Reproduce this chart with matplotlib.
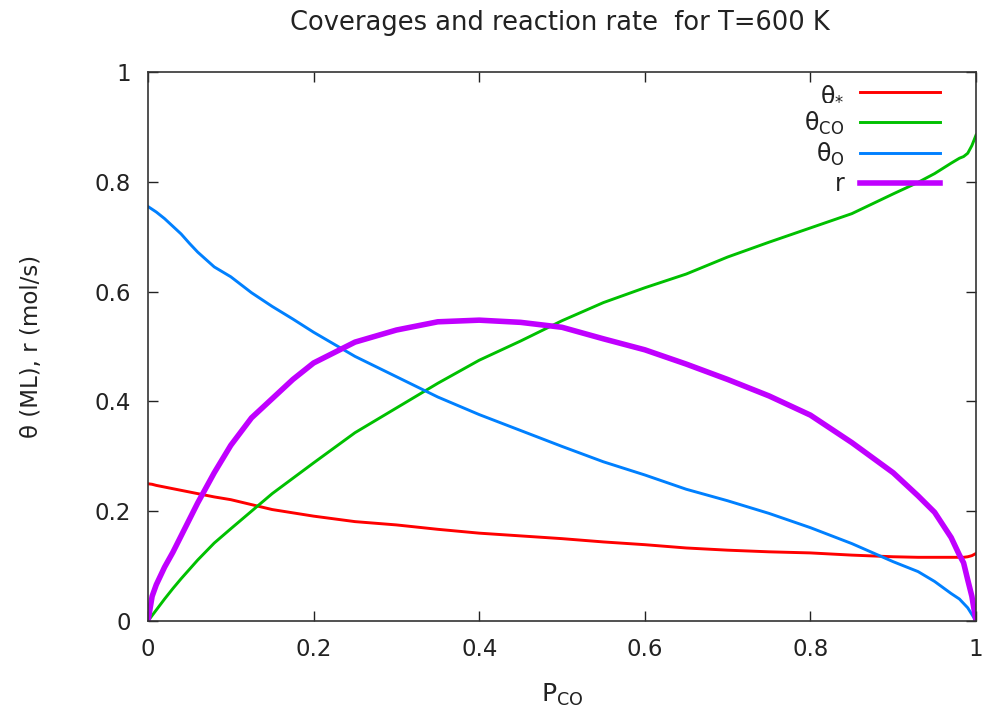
import numpy as np
import matplotlib.pyplot as plt

# CO 分圧
p_co = [0.0, 0.005, 0.01, 0.02, 0.03, 0.04, 0.05, 0.06, 0.08, 0.1, 0.125, 0.15, 0.175,
        0.2, 0.25, 0.3, 0.35, 0.4, 0.45, 0.5, 0.55, 0.6, 0.65, 0.7, 0.75, 0.8, 0.85,
        0.9, 0.93, 0.95, 0.97, 0.98, 0.985, 0.99, 0.995, 1.0]

# 空きサイト
theta_free = [0.25, 0.249, 0.247, 0.244, 0.241, 0.238, 0.235, 0.232, 0.226, 0.221, 0.212,
              0.203, 0.197, 0.191, 0.181, 0.175, 0.167, 0.160, 0.155, 0.150, 0.144, 0.139,
              0.133, 0.129, 0.126, 0.124, 0.120, 0.117, 0.116, 0.116, 0.116, 0.116, 0.116,
              0.117, 0.119, 0.123]

# CO 被覆率
theta_co = [0.0, 0.01, 0.02, 0.04, 0.059, 0.077, 0.094, 0.111, 0.142, 0.168, 0.2, 0.232,
            0.26, 0.288, 0.343, 0.388, 0.433, 0.475, 0.51, 0.547, 0.58, 0.607, 0.632,
            0.663, 0.69, 0.716, 0.742, 0.778, 0.799, 0.815, 0.834, 0.843, 0.846, 0.852,
            0.866, 0.885]

# O 被覆率
theta_o = [0.755, 0.75, 0.745, 0.733, 0.719, 0.705, 0.688, 0.672, 0.645, 0.627, 0.598,
           0.573, 0.55, 0.526, 0.482, 0.445, 0.408, 0.376, 0.347, 0.318, 0.29, 0.266,
           0.24, 0.219, 0.196, 0.170, 0.141, 0.108, 0.09, 0.072, 0.05, 0.04, 0.032,
           0.024, 0.012, 0.0]

# 反応速度
rate = [0.0, 0.045, 0.066, 0.098, 0.125, 0.155, 0.185, 0.215, 0.27, 0.32, 0.37, 0.405,
        0.44, 0.47, 0.508, 0.53, 0.545, 0.548, 0.544, 0.535, 0.514, 0.494, 0.468, 0.44,
        0.41, 0.375, 0.325, 0.27, 0.228, 0.198, 0.152, 0.12, 0.106, 0.075, 0.045, 0.0]

fig = plt.figure(figsize=(9.82, 7.11), dpi=100)
ax = fig.add_axes([0.1507, 0.1266, 0.8432, 0.7721])

ax.plot(p_co, theta_free, color='#ff0000', lw=2.1, label='θ$_{*}$')
ax.plot(p_co, theta_co, color='#00c000', lw=2.1, label='θ$_{\\mathrm{CO}}$')
ax.plot(p_co, theta_o, color='#0080ff', lw=2.1, label='θ$_{\\mathrm{O}}$')
ax.plot(p_co, rate, color='#c000ff', lw=4.0, label='r')

ax.set_xlim(0, 1)
ax.set_ylim(0, 1)
ticks = [0, 0.2, 0.4, 0.6, 0.8, 1]
tick_labels = ['0', '0.2', '0.4', '0.6', '0.8', '1']
ax.set_xticks(ticks)
ax.set_xticklabels(tick_labels)
ax.set_yticks(ticks)
ax.set_yticklabels(tick_labels)
ax.tick_params(direction='in', length=7, width=1, top=True, right=True,
               labelsize=16.5, colors='#222222', pad=12)
for s in ax.spines.values():
    s.set_linewidth(1.2)
    s.set_color('#333333')

# タイトルは図座標で固定
fig.text(0.5705, 1 - 23 / 711, 'Coverages and reaction rate  for T=600 K', fontsize=18.5,
         color='#222222', ha='center', va='center')
ax.set_xlabel('P$_{\\mathrm{CO}}$', fontsize=18, color='#222222', labelpad=15)
ax.set_ylabel('θ (ML), r (mol/s)', fontsize=16.5, color='#222222', labelpad=37)

# 凡例 (gnuplot 風: ラベルが左、線が右)
leg = ax.legend(loc='upper right', bbox_to_anchor=(0.9565, 0.983), frameon=False,
                markerfirst=False, fontsize=17, handlelength=3.4, labelspacing=0.17,
                borderaxespad=0.0, borderpad=0.0, handletextpad=0.65)
for t in leg.get_texts():
    t.set_color('#222222')

fig.savefig('out.png', dpi=100)
